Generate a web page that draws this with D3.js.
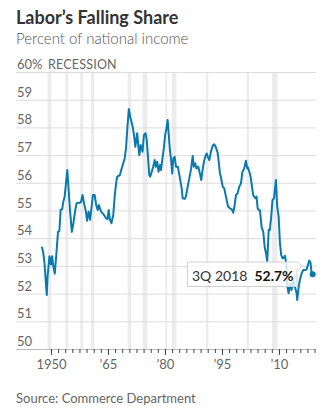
<!DOCTYPE html>
<html><head><meta charset="utf-8">
<script src="https://cdn.jsdelivr.net/npm/d3@7"></script>
<style>
body{margin:0;background:#fff;}
svg{display:block;font-family:Lato,"Noto Sans",sans-serif;}
</style></head>
<body><svg id="c" width="336" height="414"></svg>
<script>
const dates = [1947.6,1947.95,1948.3,1948.65,1948.9,1949.1,1949.6,1950.0,1950.3,1950.65,1951.0,1951.5,1951.85,1952.2,1952.55,1952.95,1953.25,1953.6,1953.95,1954.3,1954.6,1955.0,1955.5,1955.9,1956.4,1956.75,1957.4,1957.9,1958.3,1958.8,1959.2,1959.5,1959.9,1960.3,1960.8,1961.05,1961.5,1961.9,1962.3,1962.6,1963.2,1963.95,1964.5,1964.9,1965.2,1965.5,1965.9,1966.4,1966.8,1967.2,1967.45,1968.15,1968.5,1969.0,1969.4,1969.75,1970.1,1970.5,1970.95,1971.5,1971.85,1972.2,1972.7,1972.97,1973.25,1973.6,1974.1,1974.47,1974.9,1975.2,1975.5,1975.87,1976.1,1976.4,1976.9,1977.3,1977.6,1977.96,1978.3,1978.7,1978.95,1979.4,1979.7,1980.05,1980.4,1980.7,1980.97,1981.3,1981.66,1981.9,1982.2,1982.55,1982.9,1983.4,1983.95,1984.4,1984.66,1985.2,1985.5,1985.9,1986.4,1986.9,1987.3,1987.6,1987.97,1988.3,1988.76,1989.2,1989.55,1989.9,1990.26,1990.6,1990.97,1991.3,1991.66,1992.1,1992.55,1992.97,1993.4,1993.85,1994.1,1994.47,1994.7,1995.2,1995.6,1995.87,1996.24,1996.6,1997.1,1997.6,1997.97,1998.34,1998.7,1999.1,1999.55,2000.0,2000.4,2000.87,2001.3,2001.66,2001.85,2002.2,2002.55,2002.9,2003.2,2003.76,2004.1,2004.4,2004.66,2005.0,2005.44,2005.87,2006.24,2006.6,2006.92,2007.3,2007.6,2007.97,2008.3,2008.7,2009.2,2009.55,2009.92,2010.26,2010.6,2010.97,2011.3,2011.6,2011.9,2012.2,2012.55,2012.9,2013.3,2013.76,2014.2,2014.66,2014.8,2015.2,2015.5,2015.97,2016.4,2017.0,2017.3,2017.97,2018.3,2018.6,2018.87];
const share = [53.69,53.5,53.1,52.4,51.95,52.6,53.35,53.05,53.35,52.95,52.72,53.57,54.23,54.25,55.02,55.05,55.32,55.5,55.98,56.46,55.86,55.02,54.23,54.54,55.02,55.26,55.28,55.3,55.56,55.2,54.96,54.63,54.96,54.66,55.26,55.56,55.56,55.2,55.02,55.2,54.96,54.84,54.72,54.69,55.02,54.69,54.54,54.84,55.56,56.04,56.22,56.28,56.46,56.7,56.88,57.24,57.97,58.66,58.33,58.03,57.73,57.3,57.79,57.36,57.0,57.36,57.12,57.73,57.79,57.55,57.0,56.28,56.22,56.34,56.58,56.82,56.58,56.76,56.4,56.64,56.46,56.94,57.24,57.73,57.97,58.27,57.79,57.18,56.76,56.34,56.88,56.94,56.58,56.58,56.16,55.8,55.44,55.42,55.5,55.8,56.16,56.52,56.97,56.58,56.7,56.52,56.58,56.34,56.1,56.46,56.76,56.94,57.06,56.94,56.82,57.12,57.33,57.39,57.28,57.1,56.82,56.34,56.22,55.86,55.8,55.62,55.38,55.14,55.08,55.04,54.92,55.2,55.56,55.62,55.86,55.98,56.4,56.52,56.8,56.52,56.55,56.4,56.22,55.86,55.56,55.44,55.5,55.08,55.02,55.0,54.4,54.23,53.69,53.45,53.15,54.3,54.3,54.78,55.38,55.44,56.1,55.14,54.78,53.82,53.39,53.27,53.3,53.36,53.09,52.25,52.01,52.37,52.13,52.49,52.25,52.0,51.77,52.25,52.49,52.73,52.85,52.85,52.88,53.19,53.12,52.73,52.7];
const recessionStart = [1949.1,1953.8,1957.7,1960.5,1970.2,1974.1,1980.1,1981.8,1990.8,2001.5,2008.2];
const recessionEnd   = [1950.1,1954.5,1958.5,1961.4,1971.1,1975.4,1980.6,1983.0,1991.4,2002.1,2009.6];
const yTicks = [50,51,52,53,54,55,56,57,58,59,60];
const xMajor = [1950,1965,1980,1995,2010];
const xMajorLabels = ["1950","\u201965","\u201980","\u201995","\u201910"];
const xMinor = d3.range(1950, 2019.6, 1.875);
const lastLabel = "3Q 2018";
const lastValue = "52.7%";

const svg = d3.select("#c");
const x = d3.scaleLinear().domain([1940.8, 2019.75]).range([16, 316]);
const y = d3.scaleLinear().domain([50, 60]).range([349, 72]);

svg.append("text").attr("x",16).attr("y",24).attr("font-size",18).attr("font-weight",700).attr("fill","#333").text("Labor\u2019s Falling Share");
svg.append("text").attr("x",16).attr("y",44).attr("font-size",15).attr("font-weight",300).attr("fill","#555").text("Percent of national income");

// recession bands
svg.append("g").selectAll("rect").data(recessionStart).join("rect")
  .attr("x",(d)=>x(d)).attr("width",(d,i)=>x(recessionEnd[i])-x(d))
  .attr("y",y(60)).attr("height",y(50)-y(60)).attr("fill","#ececef");

// grid
const grid = svg.append("g").attr("transform","translate(16,0)")
  .call(d3.axisRight(y).tickValues(yTicks).tickSize(300).tickFormat(""));
grid.select(".domain").remove();
grid.selectAll(".tick line").attr("stroke","#dcdcdc");
grid.selectAll(".tick").filter(d=>d===50).select("line").attr("stroke","#bbb");

// y labels
svg.append("g").selectAll("text").data(yTicks.filter(d=>d>50||true)).join("text")
  .attr("x",17).attr("y",d=>y(d)-3).attr("font-size",13).attr("fill","#666")
  .text(d=>d===60?"60%":d);
svg.append("text").attr("x",48).attr("y",y(60)-3).attr("font-size",12.5).attr("fill","#666").attr("letter-spacing",0.2).text("RECESSION");

// x axis
const xa = svg.append("g").attr("transform",`translate(0,${y(50)})`)
  .call(d3.axisBottom(x).tickValues(xMinor).tickSize(4).tickFormat(""));
xa.select(".domain").remove();
xa.selectAll(".tick line").attr("stroke","#444");
const xb = svg.append("g").attr("transform",`translate(0,${y(50)})`)
  .call(d3.axisBottom(x).tickValues(xMajor).tickSize(6).tickPadding(5).tickFormat((d,i)=>xMajorLabels[i]));
xb.select(".domain").remove();
xb.selectAll(".tick line").attr("stroke","#444");
xb.selectAll(".tick text").attr("font-size",13).attr("fill","#666").attr("font-family","Lato,sans-serif");

// line
const pts = dates.map((d,i)=>[d, share[i]]);
svg.append("path").datum(pts).attr("fill","none").attr("stroke","#0a79ae").attr("stroke-width",2)
  .attr("stroke-linejoin","round").attr("d", d3.line().x(d=>x(d[0])).y(d=>y(d[1])));
const last = pts[pts.length-1];
svg.append("circle").attr("cx",x(last[0])).attr("cy",y(last[1])).attr("r",3).attr("fill","#0a79ae");

// annotation
const ann = svg.append("g");
ann.append("path").attr("d",`M187.5,262 H297 L302,266 L297,270 V286.5 H187.5 Z`)
  .attr("fill","rgba(255,255,255,0.8)").attr("stroke","#d0d0d0");
const t = ann.append("text").attr("x",192).attr("y",281).attr("font-size",14).attr("fill","#333");
t.append("tspan").text(lastLabel);
t.append("tspan").attr("dx",7).attr("font-weight",700).attr("fill","#111").text(lastValue);

svg.append("text").attr("x",16).attr("y",403).attr("font-size",13).attr("fill","#666").text("Source: Commerce Department");
</script></body></html>
